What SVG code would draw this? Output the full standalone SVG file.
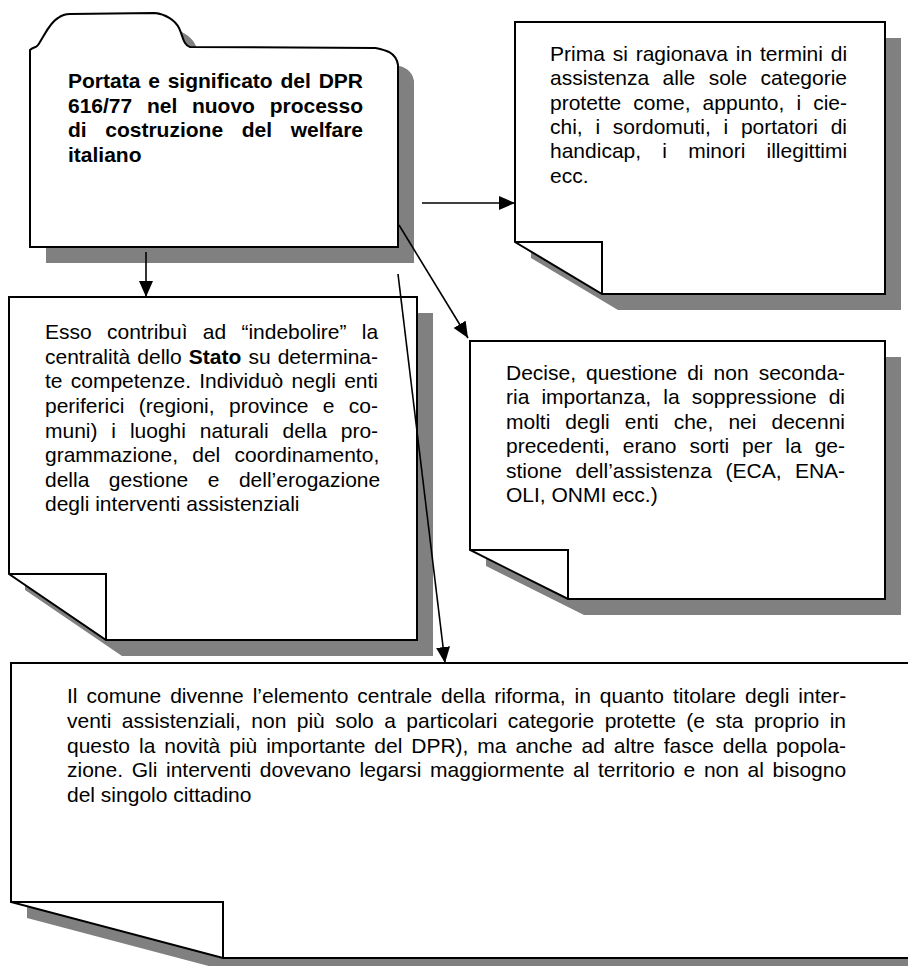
<svg xmlns="http://www.w3.org/2000/svg" width="908" height="966" viewBox="0 0 908 966">
  <style>
    .shadow { fill: #808080; stroke: none; }
    .body { fill: #ffffff; stroke: #000000; stroke-width: 2; stroke-linejoin: miter; }
    .flap { fill: none; stroke: #000000; stroke-width: 2; }
    .txt { font-family: "Liberation Sans", Arial, sans-serif; font-size: 21px; fill: #000000; font-kerning: none; }
    .bold { font-weight: bold; }
    .conn { stroke: #000000; stroke-width: 1.6; fill: none; }
  </style>
  <defs>
    <marker id="arrow" viewBox="0 0 16 14" refX="16" refY="7" markerWidth="16" markerHeight="14" orient="auto" markerUnits="userSpaceOnUse">
      <path d="M0,0 L16,7 L0,14 Z" fill="#000000"/>
    </marker>
    <path id="folderShape" d="M30,247 L30,50 C33,47 36,48 38,45 C44,36 50,22 58,18 C62,15 66,14 70,14 L155,13 C165,14 175,20 179,28 C183,36 183,45 190,47 L375,48 C385,50 396,52 398,65 L398,247 Z"/>
  </defs>

  <rect x="0" y="0" width="908" height="966" fill="#ffffff"/>

  <!-- title folder -->
  <g id="node-title">
    <use href="#folderShape" class="shadow" transform="translate(16,16)"/>
    <use href="#folderShape" class="body"/>
    <text class="txt bold" x="68" y="88" style="word-spacing:1.99px">Portata e significato del DPR</text>
    <text class="txt bold" x="68" y="112.5" style="word-spacing:8.86px">616/77 nel nuovo processo</text>
    <text class="txt bold" x="68" y="137" style="word-spacing:12.76px">di costruzione del welfare</text>
    <text class="txt bold" x="68" y="161.5">italiano</text>
  </g>

  <!-- note: assistance to protected categories -->
  <g id="node-categorie">
    <path class="shadow" d="M531,38 H901 V310 H618 L531,258 Z"/>
    <path class="body" d="M515,22 H885 V294 H602 L515,242 Z"/>
    <path class="flap" d="M515,242 H602 V294"/>
    <text class="txt" x="550" y="61" style="word-spacing:1.99px">Prima si ragionava in termini di</text>
    <text class="txt" x="550" y="85.3" style="word-spacing:7.56px">assistenza alle sole categorie</text>
    <text class="txt" x="550" y="109.7" style="word-spacing:6.26px">protette come, appunto, i cie-</text>
    <text class="txt" x="550" y="134" style="word-spacing:6.88px">chi, i sordomuti, i portatori di</text>
    <text class="txt" x="550" y="158.4" style="word-spacing:15.37px">handicap, i minori illegittimi</text>
    <text class="txt" x="550" y="182.7">ecc.</text>
  </g>

  <!-- note: role of the State -->
  <g id="node-stato">
    <path class="shadow" d="M25,313 H433 V656 H122 L25,590 Z"/>
    <path class="body" d="M9,297 H417 V640 H106 L9,574 Z"/>
    <path class="flap" d="M9,574 H106 V640"/>
    <text class="txt" x="45" y="339.3" style="word-spacing:9.44px">Esso contribuì ad “indebolire” la</text>
    <text class="txt" x="45" y="363.9" style="word-spacing:1.26px">centralità dello <tspan class="bold">Stato</tspan> su determina-</text>
    <text class="txt" x="45" y="388.4" style="word-spacing:2.41px">te competenze. Individuò negli enti</text>
    <text class="txt" x="45" y="413" style="word-spacing:8.56px">periferici (regioni, province e co-</text>
    <text class="txt" x="45" y="437.6" style="word-spacing:8.02px">muni) i luoghi naturali della pro-</text>
    <text class="txt" x="45" y="462.1" style="word-spacing:8.36px">grammazione, del coordinamento,</text>
    <text class="txt" x="45" y="486.7" style="word-spacing:13.66px">della gestione e dell’erogazione</text>
    <text class="txt" x="45" y="511.3">degli interventi assistenziali</text>
  </g>

  <!-- note: suppression of national bodies -->
  <g id="node-enti">
    <path class="shadow" d="M486,357 H901 V615 H584 L486,566 Z"/>
    <path class="body" d="M470,341 H885 V599 H568 L470,550 Z"/>
    <path class="flap" d="M470,550 H568 V599"/>
    <text class="txt" x="506" y="380" style="word-spacing:4.21px">Decise, questione di non seconda-</text>
    <text class="txt" x="506" y="404.4" style="word-spacing:6.26px">ria importanza, la soppressione di</text>
    <text class="txt" x="506" y="428.8" style="word-spacing:9.2px">molti degli enti che, nei decenni</text>
    <text class="txt" x="506" y="453.2" style="word-spacing:7.1px">precedenti, erano sorti per la ge-</text>
    <text class="txt" x="506" y="477.6" style="word-spacing:7.6px">stione dell’assistenza (ECA, ENA-</text>
    <text class="txt" x="506" y="502">OLI, ONMI ecc.)</text>
  </g>

  <!-- note: the municipality -->
  <g id="node-comune">
    <path class="shadow" d="M27,679 H946 V974 H239 L27,918 Z"/>
    <path class="body" d="M11,663 H930 V958 H223 L11,902 Z"/>
    <path class="flap" d="M11,902 H223 V958"/>
    <text class="txt" x="67" y="703" style="word-spacing:3.13px">Il comune divenne l’elemento centrale della riforma, in quanto titolare degli inter-</text>
    <text class="txt" x="67" y="727.7" style="word-spacing:4.61px">venti assistenziali, non più solo a particolari categorie protette (e sta proprio in</text>
    <text class="txt" x="67" y="752.5" style="word-spacing:3.09px">questo la novità più importante del DPR), ma anche ad altre fasce della popola-</text>
    <text class="txt" x="67" y="777.2" style="word-spacing:2.81px">zione. Gli interventi dovevano legarsi maggiormente al territorio e non al bisogno</text>
    <text class="txt" x="67" y="802">del singolo cittadino</text>
  </g>

  <!-- connectors -->
  <g id="connectors">
    <line class="conn" x1="146" y1="252" x2="146" y2="297" marker-end="url(#arrow)"/>
    <line class="conn" x1="422" y1="203" x2="515" y2="203" marker-end="url(#arrow)"/>
    <line class="conn" x1="399" y1="225" x2="468" y2="338" marker-end="url(#arrow)"/>
    <line class="conn" x1="398" y1="274" x2="445" y2="663" marker-end="url(#arrow)"/>
  </g>
</svg>
